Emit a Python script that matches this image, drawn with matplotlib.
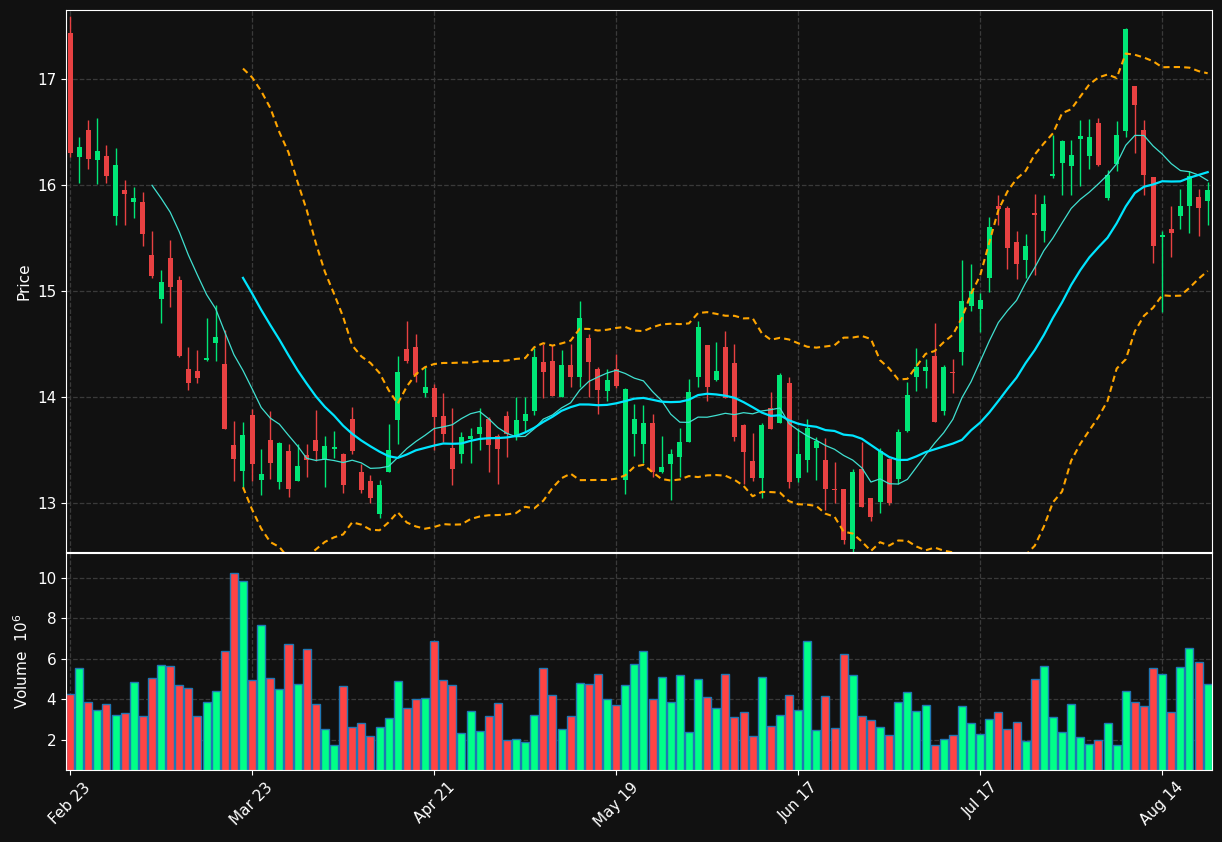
import numpy as np
import pandas as pd
import matplotlib
matplotlib.use("Agg")
import matplotlib.pyplot as plt

opens = [17.43,16.26,16.52,16.23,16.27,15.71,15.95,15.84,15.84,15.34,
         14.92,15.31,15.10,14.26,14.24,14.35,14.51,14.31,13.54,13.30,
         13.83,13.21,13.59,13.19,13.49,13.20,13.45,13.59,13.40,13.51,
         13.46,13.79,13.29,13.20,12.89,13.29,13.78,14.45,14.47,14.03,
         14.08,13.82,13.52,13.46,13.60,13.65,13.79,13.63,13.82,13.63,
         13.77,13.86,14.33,14.34,14.00,14.30,14.19,14.55,14.26,14.05,
         14.26,13.21,13.65,13.55,13.75,13.29,13.36,13.43,13.57,14.19,
         14.49,14.16,14.47,14.32,13.73,13.39,13.23,13.89,13.75,14.13,
         13.23,13.40,13.52,13.40,13.13,13.13,12.56,13.32,13.04,13.01,
         13.41,13.22,13.68,14.19,14.24,14.38,13.86,14.23,14.42,14.86,
         14.83,15.12,15.80,15.78,15.46,15.29,15.73,15.56,16.08,16.21,
         16.18,16.43,16.27,16.58,15.88,16.20,16.51,16.93,16.52,16.07,
         15.51,15.58,15.71,15.80,15.89,15.85]
closes = [16.30,16.36,16.24,16.32,16.08,16.19,15.91,15.88,15.54,15.14,
          15.08,15.04,14.38,14.13,14.18,14.36,14.56,13.69,13.41,13.64,
          13.36,13.27,13.37,13.56,13.13,13.35,13.40,13.49,13.53,13.51,
          13.17,13.49,13.12,13.04,13.17,13.50,14.23,14.34,14.20,14.09,
          13.81,13.65,13.32,13.62,13.63,13.71,13.54,13.51,13.65,13.78,
          13.84,14.37,14.23,14.01,14.30,14.19,14.74,14.33,14.06,14.16,
          14.10,14.07,13.79,13.75,13.29,13.34,13.46,13.57,14.04,14.66,
          14.09,14.24,13.99,13.62,13.48,13.23,13.73,13.69,14.20,13.19,
          13.46,13.70,13.58,13.13,13.12,12.65,13.29,12.96,12.86,13.49,
          13.00,13.67,14.02,14.28,14.28,13.76,14.28,14.22,14.90,15.00,
          14.91,15.60,15.77,15.40,15.25,15.42,15.72,15.82,16.10,16.41,
          16.28,16.46,16.45,16.19,16.09,16.47,17.47,16.75,16.09,15.42,
          15.52,15.55,15.80,16.08,15.78,15.95]
highs = [17.59,16.45,16.61,16.63,16.38,16.35,16.05,15.98,15.93,15.56,
         15.20,15.48,15.14,14.47,14.44,14.74,14.87,14.63,13.77,13.76,
         13.88,13.51,13.86,13.57,13.55,13.55,13.55,13.87,13.63,13.68,
         13.47,13.90,13.36,13.26,13.21,13.74,14.38,14.71,14.59,14.28,
         14.12,14.03,13.89,13.67,13.70,13.89,13.81,13.65,13.86,14.00,
         14.00,14.46,14.50,14.49,14.44,14.50,14.90,14.59,14.28,14.26,
         14.40,14.08,13.93,13.92,13.84,13.63,13.51,13.70,14.17,14.71,
         14.49,14.52,14.62,14.50,13.74,13.66,13.75,14.04,14.22,14.19,
         13.70,13.79,13.62,13.61,13.38,13.13,13.32,13.57,13.04,13.52,
         13.42,13.69,14.14,14.46,14.36,14.70,14.30,14.36,15.29,15.25,
         14.98,15.70,15.90,15.80,15.56,15.54,15.91,15.90,16.47,16.42,
         16.42,16.61,16.62,16.63,16.14,16.60,17.48,16.93,16.61,16.07,
         15.56,15.80,15.96,16.13,15.96,16.03]
lows = [16.26,16.02,16.15,16.01,16.02,15.62,15.62,15.69,15.42,15.12,
        14.70,14.85,14.37,14.06,14.13,14.34,14.34,13.69,13.20,13.14,
        13.20,13.07,13.22,13.13,13.05,13.20,13.24,13.39,13.15,13.42,
        13.09,13.46,13.09,13.00,12.85,13.29,13.55,14.32,14.14,14.00,
        13.50,13.57,13.17,13.37,13.37,13.50,13.29,13.18,13.43,13.59,
        13.67,13.83,13.99,14.01,14.00,14.09,14.09,14.00,13.84,13.96,
        14.08,13.08,13.44,13.37,13.24,13.28,13.02,13.24,13.57,14.09,
        13.96,14.15,13.99,13.58,13.18,13.20,13.04,13.69,13.75,13.14,
        13.19,13.29,13.21,12.93,13.00,12.61,12.50,12.96,12.83,12.90,
        12.98,13.18,13.67,14.05,14.08,13.76,13.83,14.03,14.30,14.81,
        14.61,14.99,15.62,15.21,15.11,15.12,15.15,15.46,16.06,15.90,
        15.90,15.99,16.15,16.18,15.86,16.13,16.45,16.30,15.90,15.26,
        14.80,15.32,15.58,15.55,15.52,15.62]
volumes = [4.27,5.56,3.88,3.48,3.78,3.22,3.33,4.86,3.19,5.06,
           5.70,5.65,4.72,4.57,3.19,3.88,4.42,6.39,10.2,9.85,
           4.96,7.68,5.06,4.52,6.74,4.77,6.49,3.78,2.54,1.75,
           4.67,2.64,2.84,2.20,2.64,3.09,4.91,3.58,4.02,4.07,
           6.89,4.96,4.72,2.35,3.43,2.45,3.19,3.83,2.00,2.05,
           1.90,3.23,5.56,4.22,2.54,3.19,4.81,4.77,5.26,4.02,
           3.73,4.72,5.75,6.39,4.02,5.11,3.88,5.21,2.40,5.01,
           4.12,3.58,5.26,3.14,3.38,2.20,5.11,2.69,3.23,4.22,
           3.48,6.89,2.49,4.17,2.59,6.24,5.21,3.19,2.99,2.64,
           2.25,3.88,4.37,3.43,3.73,1.75,2.05,2.25,3.68,2.84,
           2.30,3.04,3.38,2.54,2.89,1.95,5.01,5.65,3.14,2.40,
           3.78,2.15,1.80,2.00,2.84,1.75,4.42,3.88,3.68,5.56,
           5.26,3.38,5.60,6.54,5.85,4.77]
tick_labels = ["Feb 23", "Mar 23", "Apr 21", "May 19", "Jun 17", "Jul 17", "Aug 14"]
tick_every = 20

df = pd.DataFrame(dict(o=opens, h=highs, l=lows, c=closes, v=volumes))
x = np.arange(len(df))
up = df.c >= df.o
UP, DN = "#00e676", "#e84142"
VUP, VDN = "#00ff88", "#ff4444"
BG = "#111111"

ma10 = df.c.rolling(10).mean()
ma20 = df.c.rolling(20).mean()
sd20 = df.c.rolling(20).std(ddof=0)
bbu, bbl = ma20 + 2 * sd20, ma20 - 2 * sd20

fig = plt.figure(figsize=(12.22, 8.42), dpi=100, facecolor=BG)
ax = fig.add_axes([0.054, 0.344, 0.938, 0.644], facecolor=BG)
axv = fig.add_axes([0.054, 0.0855, 0.938, 0.2575], facecolor=BG, sharex=ax)

cols = np.where(up, UP, DN)
ax.vlines(x, df.l, df.h, colors=cols, lw=1, zorder=2)
ax.bar(x, (df.c - df.o).abs().clip(lower=0.012), bottom=np.minimum(df.o, df.c),
       width=0.55, color=cols, zorder=3)
ax.plot(x, ma10, color="#40e0d0", lw=0.9, zorder=4)
ax.plot(x, ma20, color="#00e5ff", lw=1.6, zorder=4)
ax.plot(x, bbu, color="#ffa500", lw=1.5, ls=(0, (3, 2)), zorder=4)
ax.plot(x, bbl, color="#ffa500", lw=1.5, ls=(0, (3, 2)), zorder=4)
ax.set_ylim(12.53, 17.65)
ax.set_ylabel("Price", color="white", fontsize=11)

axv.bar(x, df.v, width=0.88, color=np.where(up, VUP, VDN), edgecolor="#1f77b4", lw=1)
axv.set_ylim(0.52, 11.2)
axv.set_yticks([2, 4, 6, 8, 10])
axv.set_ylabel("Volume  $10^6$", color="white", fontsize=11)

ax.set_xlim(-0.45, len(df) - 0.5)
axv.set_xticks(x[::tick_every])
axv.set_xticklabels(tick_labels, rotation=45, ha="center")
plt.setp(ax.get_xticklabels(), visible=False)

for a in (ax, axv):
    a.grid(True, color="#3a3a3a", ls="--", lw=0.9)
    a.set_axisbelow(True)
    for s in a.spines.values():
        s.set_color("white")
    a.tick_params(colors="white", labelsize=11)

fig.savefig("out.png", dpi=100, facecolor=BG)
